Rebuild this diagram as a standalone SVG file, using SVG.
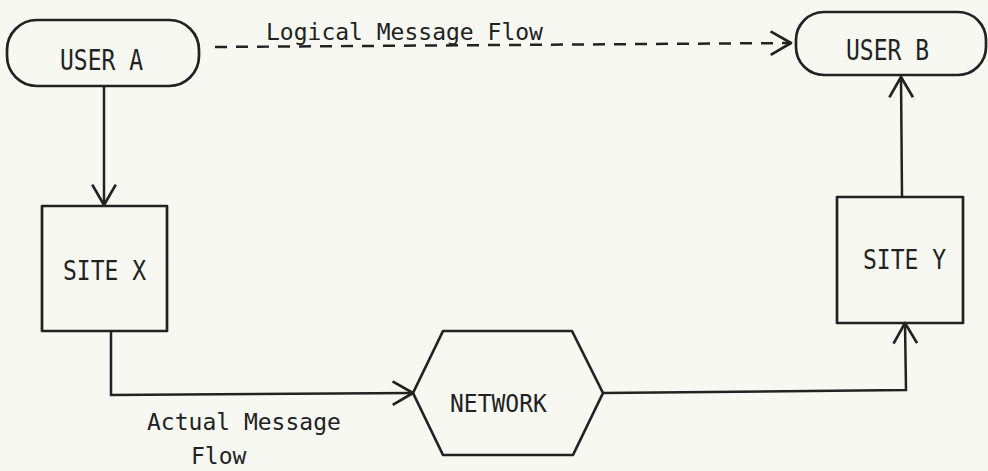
<svg xmlns="http://www.w3.org/2000/svg" width="988" height="471" viewBox="0 0 988 471">
<defs>
<style>
.bg{fill:#f8f8f2}
.box{fill:none;stroke:#222;stroke-width:2.7;stroke-linejoin:round}
.ln{fill:none;stroke:#222;stroke-width:2.5}
.dash{stroke-dasharray:12 9}
.t{font-family:"DejaVu Sans Mono","Liberation Mono",monospace;font-size:23px;fill:#222}
</style>
<marker id="arr" markerUnits="userSpaceOnUse" markerWidth="30" markerHeight="30" viewBox="-24 -14 28 28" refX="0" refY="0" orient="auto">
<path d="M-19,-11 L0,0 L-19,11" fill="none" stroke="#222" stroke-width="2.5" stroke-linejoin="round"/>
</marker>
</defs>
<rect class="bg" x="0" y="0" width="988" height="471"/>
<g id="connectors">
<path class="ln dash" d="M215,47 L791,43" marker-end="url(#arr)"/>
<path class="ln" d="M104,86 L104,205" marker-end="url(#arr)"/>
<path class="ln" d="M111,331 L111,395 L413,393" marker-end="url(#arr)"/>
<path class="ln" d="M603,393 L906,390 L905,323" marker-end="url(#arr)"/>
<path class="ln" d="M902,197 L901,77" marker-end="url(#arr)"/>
</g>
<g id="userA">
<rect class="box" x="7" y="20" width="192" height="66" rx="30" ry="30"/>
<text class="t" transform="translate(60,70) scale(1,1.2)">USER A</text>
</g>
<g id="userB">
<rect class="box" x="796" y="12" width="190" height="63" rx="28" ry="28"/>
<text class="t" transform="translate(846,60) scale(1,1.2)">USER B</text>
</g>
<g id="siteX">
<rect class="box" x="42" y="206" width="125" height="125"/>
<text class="t" transform="translate(63,280) scale(1,1.15)">SITE X</text>
</g>
<g id="siteY">
<rect class="box" x="837" y="197" width="126" height="126"/>
<text class="t" transform="translate(863,269) scale(1,1.15)">SITE Y</text>
</g>
<g id="network">
<polygon class="box" points="413,393 443,331 572,331 603,393 573,455 443,455"/>
<text class="t" transform="translate(450,412) scale(1,1.1)">NETWORK</text>
</g>
<g id="labels">
<text class="t" x="266" y="40">Logical Message Flow</text>
<text class="t" x="147" y="430">Actual Message</text>
<text class="t" x="191" y="464">Flow</text>
</g>
</svg>
